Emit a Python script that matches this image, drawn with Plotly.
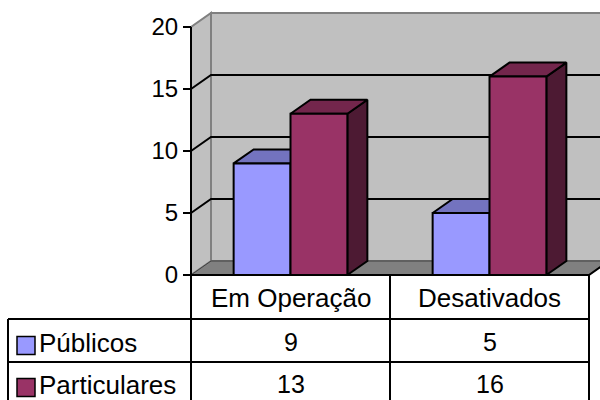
import plotly.graph_objects as go

# ---- data ----
categories = ["Em Operação", "Desativados"]
series_names = ["Públicos", "Particulares"]
publicos = [9, 5]
particulares = [13, 16]
y_ticks = [0, 5, 10, 15, 20]

# ---- style ----
front_colors = ["#9999FF", "#993366"]
top_colors = ["#7373BF", "#73264C"]
side_colors = ["#4D4D80", "#4D1A33"]
WALL = "#C0C0C0"
FLOOR = "#808080"
EDGE = "#808080"
FONT = "Arial, Liberation Sans, sans-serif"

W, H = 600, 400
CAT_PX = 199.0          # pixels per category
FRONT_LEFT_PX = 191.0   # x pixel of front-left corner (value axis)
ZERO_PX = 275.0         # y pixel (from top) of value 0 on front plane
PX_PER_UNIT = 12.4      # pixels per value unit
DEPTH_X_PX, DEPTH_Y_PX = 20.0, 14.0

x0 = -0.5 - FRONT_LEFT_PX / CAT_PX
x1 = x0 + W / CAT_PX
y0 = -(H - ZERO_PX) / PX_PER_UNIT
y1 = y0 + H / PX_PER_UNIT
DX = DEPTH_X_PX / CAT_PX
DY = DEPTH_Y_PX / PX_PER_UNIT
XL, XR = -0.5, len(categories) - 0.5
YMAX = 20
BAR_W = 1.0 / (2 + 1.5)

def py(pix):  # pixel from top -> paper
    return 1 - pix / H

def px(pix):
    return pix / W

fig = go.Figure()
shapes = []

def path(pts):
    return "M " + " L ".join(f"{x},{y}" for x, y in pts) + " Z"

# back wall
shapes.append(dict(type="path", xref="x", yref="y", layer="below",
                   path=path([(XL + DX, DY), (XL + DX, YMAX + DY), (XR + DX, YMAX + DY), (XR + DX, DY)]),
                   fillcolor=WALL, line=dict(color=EDGE, width=2)))
# side wall
shapes.append(dict(type="path", xref="x", yref="y", layer="below",
                   path=path([(XL, 0), (XL, YMAX), (XL + DX, YMAX + DY), (XL + DX, DY)]),
                   fillcolor=WALL, line=dict(color=EDGE, width=2)))
# floor
shapes.append(dict(type="path", xref="x", yref="y", layer="below",
                   path=path([(XL, 0), (XR, 0), (XR + DX, DY), (XL + DX, DY)]),
                   fillcolor=FLOOR, line=dict(color="#404040", width=1)))
# gridlines
for v in y_ticks[1:-1]:
    shapes.append(dict(type="path", xref="x", yref="y", layer="below",
                       path=f"M {XL},{v} L {XL + DX},{v + DY} L {XR + DX},{v + DY}",
                       line=dict(color="black", width=2)))
# floor front & right edge
shapes.append(dict(type="path", xref="x", yref="y", layer="below",
                   path=f"M {XL},0 L {XR},0 L {XR + DX},{DY}",
                   line=dict(color="black", width=2)))
# value axis line
shapes.append(dict(type="line", xref="x", yref="y", layer="below",
                   x0=XL, x1=XL, y0=0, y1=YMAX, line=dict(color="black", width=2)))

# bars
def add_poly(pts, color):
    xs = [p[0] for p in pts] + [pts[0][0]]
    ys = [p[1] for p in pts] + [pts[0][1]]
    fig.add_trace(go.Scatter(x=xs, y=ys, mode="lines", fill="toself",
                             fillcolor=color, line=dict(color="black", width=2),
                             hoverinfo="skip", showlegend=False))

series = [publicos, particulares]
for i in range(len(categories)):
    for s, vals in enumerate(series):
        v = vals[i]
        xl = i - BAR_W + s * BAR_W
        xr = xl + BAR_W
        add_poly([(xr, 0), (xr, v), (xr + DX, v + DY), (xr + DX, DY)], side_colors[s])
        add_poly([(xl, v), (xr, v), (xr + DX, v + DY), (xl + DX, v + DY)], top_colors[s])
        add_poly([(xl, 0), (xl, v), (xr, v), (xr, 0)], front_colors[s])

# data table
ROW_TOP, ROW1, ROW2, ROW3 = 275, 319, 362, 405
TABLE_LEFT = 8
for rpix in (ROW1, ROW2, ROW3):
    shapes.append(dict(type="line", xref="paper", yref="paper",
                       x0=px(TABLE_LEFT), x1=px(FRONT_LEFT_PX + CAT_PX * len(categories)),
                       y0=py(rpix), y1=py(rpix), line=dict(color="black", width=2)))
for k in range(len(categories) + 1):
    shapes.append(dict(type="line", xref="x", yref="paper",
                       x0=XL + k, x1=XL + k, y0=py(ROW_TOP), y1=py(ROW3),
                       line=dict(color="black", width=2)))
shapes.append(dict(type="line", xref="paper", yref="paper",
                   x0=px(TABLE_LEFT), x1=px(TABLE_LEFT), y0=py(ROW1), y1=py(ROW3),
                   line=dict(color="black", width=2)))

annotations = []
for i, c in enumerate(categories):
    annotations.append(dict(x=i, y=py((ROW_TOP + ROW1) / 2 + 1), xref="x", yref="paper",
                            text=c, showarrow=False, xanchor="center", yanchor="middle",
                            font=dict(family=FONT, size=26, color="black")))
row_centers = [(ROW1 + ROW2) / 2 + 1, (ROW2 + ROW3) / 2]
for s, vals in enumerate(series):
    for i, v in enumerate(vals):
        annotations.append(dict(x=i, y=py(row_centers[s]), xref="x", yref="paper",
                                text=str(v), showarrow=False, xanchor="center", yanchor="middle",
                                font=dict(family=FONT, size=25, color="black")))
    kc = row_centers[s] + 4
    shapes.append(dict(type="rect", xref="paper", yref="paper",
                       x0=px(17), x1=px(35), y0=py(kc - 9), y1=py(kc + 9),
                       fillcolor=front_colors[s], line=dict(color="black", width=1.5)))
    annotations.append(dict(x=px(37), y=py(row_centers[s] + 1), xref="paper", yref="paper",
                            text=series_names[s], showarrow=False, xanchor="left", yanchor="middle",
                            font=dict(family=FONT, size=26, color="black")))

fig.update_layout(
    width=W, height=H, margin=dict(l=0, r=0, t=0, b=0),
    paper_bgcolor="white", plot_bgcolor="white",
    showlegend=False, shapes=shapes, annotations=annotations,
    xaxis=dict(range=[x0, x1], visible=False, fixedrange=True),
    yaxis=dict(range=[y0, y1], anchor="free", position=FRONT_LEFT_PX / W, side="left",
               tickvals=y_ticks, ticktext=[str(t) for t in y_ticks],
               ticks="outside", ticklen=8, tickwidth=2, tickcolor="black",
               showgrid=False, zeroline=False, showline=False,
               tickfont=dict(family=FONT, size=24, color="black"), fixedrange=True),
)

fig.write_html("out.html")
